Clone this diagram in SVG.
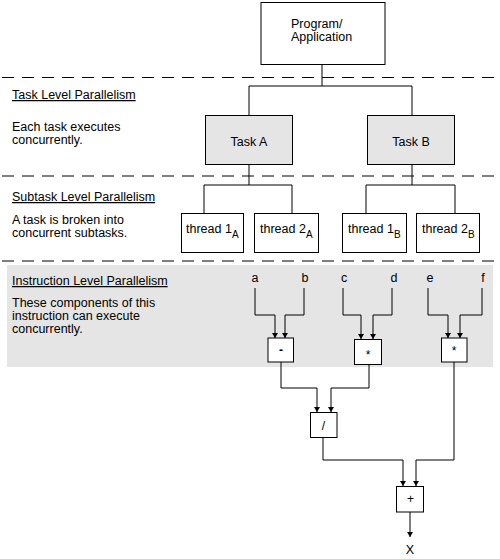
<svg xmlns="http://www.w3.org/2000/svg" width="500" height="559" viewBox="0 0 500 559">
<style>
text{font-family:"Liberation Sans",Arial,sans-serif;font-size:12.5px;fill:#000}
.box{fill:#fff;stroke:#000;stroke-width:1}
.gbox{fill:#e5e5e5;stroke:#000;stroke-width:1}
.dash{stroke:#000;stroke-width:1;stroke-dasharray:12 8;fill:none}
.con{stroke:#000;stroke-width:1;fill:none}
.arr{stroke:#000;stroke-width:1;fill:none;marker-end:url(#ah)}
.u{text-decoration:underline}
.op{font-size:12px;text-anchor:middle}
</style>
<defs>
<marker id="ah" markerUnits="userSpaceOnUse" markerWidth="6" markerHeight="7" refX="5" refY="3" orient="auto" viewBox="0 0 6 6">
<path d="M0,0 L5,3 L0,6 z" fill="#000"/>
</marker>
</defs>
<rect x="7" y="265" width="486" height="102" fill="#e5e5e5"/>
<g id="separators">
<line class="dash" x1="2" y1="77.5" x2="497" y2="77.5"/>
<line class="dash" x1="2" y1="176" x2="497" y2="176"/>
<line class="dash" x1="2" y1="261" x2="497" y2="261"/>
</g>
<g id="labels">
<text class="u" x="12" y="99">Task Level Parallelism</text>
<text x="12" y="131">Each task executes</text>
<text x="12" y="144">concurrently.</text>
<text class="u" x="12" y="201">Subtask Level Parallelism</text>
<text x="12" y="224">A task is broken into</text>
<text x="12" y="237">concurrent subtasks.</text>
<text class="u" x="12" y="285">Instruction Level Parallelism</text>
<text x="12" y="307">These components of this</text>
<text x="12" y="320">instruction can execute</text>
<text x="12" y="333">concurrently.</text>
</g>
<g id="connectors">
<path class="con" d="M322,64 V86 M249,86 H412 M249,86 V115 M412,86 V115"/>
<path class="con" d="M249,164 V185 M204,185 H292 M204,185 V213 M292,185 V213"/>
<path class="con" d="M412,164 V185 M366,185 H455 M366,185 V213 M455,185 V213"/>
<path class="arr" d="M255,288 V315 H275 V338"/>
<path class="arr" d="M304,288 V315 H285 V338"/>
<path class="arr" d="M343,288 V315 H361 V339"/>
<path class="arr" d="M392,288 V315 H373 V339"/>
<path class="arr" d="M428,288 V315 H448 V338"/>
<path class="arr" d="M482,288 V315 H460 V338"/>
<path class="arr" d="M281,362 V388 H317 V412"/>
<path class="arr" d="M369,364 V388 H331 V412"/>
<path class="arr" d="M323,437 V460 H403 V486"/>
<path class="arr" d="M454,362 V460 H416 V486"/>
<path class="arr" d="M410,512 V537"/>
</g>
<g id="program">
<rect class="box" x="261" y="2.5" width="124" height="62"/>
<text x="291" y="28" font-size="12">Program/</text>
<text x="291" y="40.5" font-size="12">Application</text>
</g>
<g id="taskA">
<rect class="gbox" x="205.5" y="115.5" width="87" height="49"/>
<text x="249" y="146" text-anchor="middle">Task A</text>
</g>
<g id="taskB">
<rect class="gbox" x="367.5" y="115.5" width="87" height="49"/>
<text x="411" y="146" text-anchor="middle">Task B</text>
</g>
<g id="thread1A">
<rect class="box" x="181.5" y="213.5" width="62" height="39"/>
<text x="186" y="233">thread 1<tspan font-size="10" dy="5">A</tspan></text>
</g>
<g id="thread2A">
<rect class="box" x="254.5" y="213.5" width="64" height="39"/>
<text x="260" y="233">thread 2<tspan font-size="10" dy="5">A</tspan></text>
</g>
<g id="thread1B">
<rect class="box" x="342.5" y="213.5" width="64" height="39"/>
<text x="348" y="233">thread 1<tspan font-size="10" dy="5">B</tspan></text>
</g>
<g id="thread2B">
<rect class="box" x="416.5" y="213.5" width="63" height="39"/>
<text x="422" y="233">thread 2<tspan font-size="10" dy="5">B</tspan></text>
</g>
<g id="inputs">
<text x="255" y="282" text-anchor="middle">a</text>
<text x="305" y="282" text-anchor="middle">b</text>
<text x="344" y="282" text-anchor="middle">c</text>
<text x="394" y="282" text-anchor="middle">d</text>
<text x="430" y="282" text-anchor="middle">e</text>
<text x="483" y="282" text-anchor="middle">f</text>
</g>
<g id="op-minus">
<rect class="box" x="268" y="338" width="25.5" height="24"/>
<text class="op" x="281" y="354" font-weight="bold" font-size="13">-</text>
</g>
<g id="op-mul1">
<rect class="box" x="354.5" y="339.5" width="27" height="25"/>
<text class="op" x="368" y="359">*</text>
</g>
<g id="op-mul2">
<rect class="box" x="441.5" y="338" width="25.5" height="24"/>
<text class="op" x="454" y="355" font-size="10">*</text>
</g>
<g id="op-div">
<rect class="box" x="310.5" y="412.5" width="26.5" height="25"/>
<text class="op" x="323.5" y="430">/</text>
</g>
<g id="op-plus">
<rect class="box" x="396.5" y="486.5" width="27" height="25.5"/>
<text class="op" x="410.5" y="503" font-size="13">+</text>
</g>
<g id="output">
<text x="410" y="554" text-anchor="middle" font-size="13">X</text>
</g>
</svg>
